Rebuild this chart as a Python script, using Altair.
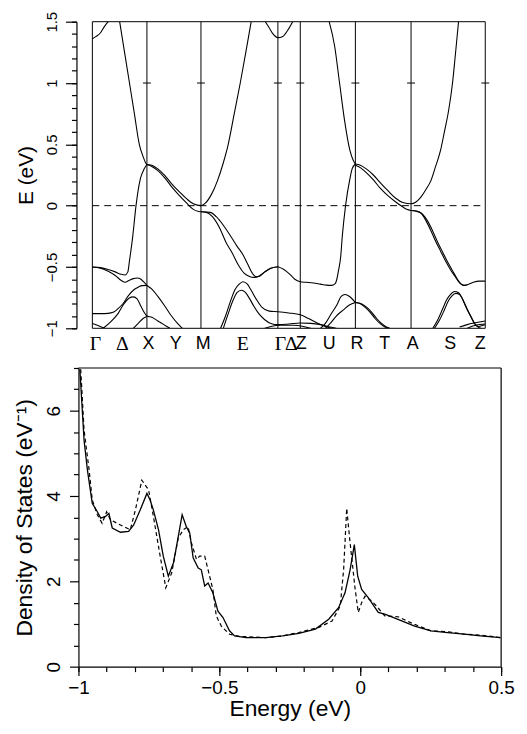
import altair as alt
import pandas as pd

# ---------------- Density of states (bottom panel) ----------------
solid_e = [-0.995,-0.980,-0.968,-0.951,-0.933,-0.921,-0.904,-0.892,-0.880,-0.851,-0.822,-0.804,-0.781,-0.757,-0.746,-0.734,-0.716,-0.699,-0.681,-0.663,-0.652,-0.632,-0.617,-0.605,-0.593,-0.575,-0.564,-0.552,-0.540,-0.523,-0.505,-0.487,-0.464,-0.446,-0.405,-0.335,-0.276,-0.218,-0.159,-0.112,-0.077,-0.054,-0.036,-0.021,-0.009,0.005,0.029,0.064,0.087,0.134,0.193,0.251,0.310,0.369,0.427,0.498]
solid_d = [6.97,5.30,4.60,3.83,3.63,3.48,3.52,3.59,3.25,3.15,3.17,3.32,3.67,4.06,3.91,3.67,3.21,2.59,2.12,2.43,2.82,3.56,3.28,3.13,2.55,2.31,2.27,1.89,1.96,1.73,1.30,1.15,0.84,0.72,0.68,0.68,0.72,0.78,0.88,1.11,1.38,1.73,2.27,2.86,2.12,1.81,1.61,1.27,1.23,1.11,0.95,0.84,0.80,0.76,0.72,0.68]
dash_e = [-0.992,-0.980,-0.962,-0.951,-0.933,-0.916,-0.900,-0.886,-0.863,-0.839,-0.816,-0.798,-0.775,-0.751,-0.734,-0.710,-0.690,-0.669,-0.646,-0.628,-0.611,-0.599,-0.581,-0.570,-0.552,-0.540,-0.523,-0.511,-0.493,-0.464,-0.429,-0.335,-0.276,-0.218,-0.147,-0.100,-0.071,-0.059,-0.048,-0.036,-0.018,-0.007,0.005,0.017,0.040,0.058,0.087,0.134,0.193,0.251,0.310,0.369,0.427,0.498]
dash_d = [6.97,5.54,4.60,3.91,3.56,3.36,3.63,3.44,3.36,3.28,3.21,3.67,4.37,4.14,3.52,2.59,1.85,2.20,3.01,3.21,3.28,2.90,2.51,2.59,2.59,2.27,1.81,1.19,0.95,0.76,0.71,0.68,0.72,0.80,0.92,1.07,1.42,2.27,3.71,2.90,1.81,1.27,1.50,1.65,1.54,1.42,1.19,1.17,0.99,0.84,0.82,0.76,0.74,0.68]

dos_x_major = [-1, -0.5, 0, 0.5]
dos_x_minor = [-1.0,-0.9,-0.8,-0.7,-0.6,-0.5,-0.4,-0.3,-0.2,-0.1,0.0,0.1,0.2,0.3,0.4,0.5]
dos_y_major = [0, 2, 4, 6]
dos_y_minor = [0.5,1,1.5,2.5,3,3.5,4.5,5,5.5,6.5,7]

# ---------------- Band structure (top panel) ----------------
# k in units of the Gamma-X distance along the path
sym_k = [1.00, 1.99, 3.40, 3.81, 4.82, 5.84]          # X, M, Gamma, Z, R, A
k_end = 7.20                                          # final Z
tick1_k = [1.00, 1.99, 3.40, 3.81, 4.82, 5.84, 7.20]  # small marks at E = 1 eV

sans_names = ["X", "Y", "M", "Z", "U", "R", "T", "A", "S", "Z"]
sans_pos   = [1.02, 1.52, 2.02, 3.82, 4.33, 4.84, 5.35, 5.86, 6.55, 7.20]
serif_names = ["Γ", "Δ", "E", "Γ", "Δ"]
serif_pos   = [0.05, 0.54, 2.75, 3.44, 3.64]

band_gamma_top = [(0.00,1.36),(0.07,1.38),(0.15,1.41),(0.22,1.46),(0.29,1.50)]
band_cond_1 = [(0.50,1.50),(0.59,1.25),(0.68,1.00),(0.77,0.75),(0.86,0.50),(0.93,0.40),(1.00,0.336),
               (1.09,0.33),(1.20,0.30),(1.33,0.245),(1.45,0.18),(1.60,0.11),(1.73,0.055),(1.85,0.015),(1.99,0.00),
               (2.07,0.02),(2.18,0.09),(2.29,0.20),(2.40,0.35),(2.49,0.50),(2.60,0.75),(2.71,1.00),(2.82,1.27),(2.91,1.50)]
band_gx_rise = [(0.00,-0.50),(0.15,-0.505),(0.29,-0.52),(0.42,-0.54),(0.53,-0.56),(0.60,-0.565),(0.65,-0.54),
                (0.68,-0.45),(0.74,-0.25),(0.80,0.00),(0.88,0.22),(0.95,0.30),(1.00,0.336)]
band_xm_low = [(1.00,0.336),(1.09,0.32),(1.20,0.285),(1.33,0.225),(1.45,0.155),(1.60,0.08),(1.73,0.02),(1.85,-0.03),(1.95,-0.047),(1.99,-0.05)]
band_mg_a = [(1.99,-0.05),(2.09,-0.055),(2.20,-0.09),(2.33,-0.18),(2.45,-0.30),(2.56,-0.384),(2.67,-0.48),(2.78,-0.55),
             (2.87,-0.575),(2.96,-0.585),(3.05,-0.575),(3.16,-0.54),(3.27,-0.51),(3.40,-0.498)]
band_mg_b = [(1.99,-0.05),(2.16,-0.055),(2.27,-0.09),(2.40,-0.16),(2.55,-0.26),(2.65,-0.33),(2.76,-0.40),(2.85,-0.48),
             (2.93,-0.55),(3.00,-0.58),(3.05,-0.578),(3.16,-0.54),(3.27,-0.51),(3.40,-0.498)]
band_gz = [(3.40,-0.498),(3.51,-0.52),(3.62,-0.56),(3.71,-0.60),(3.81,-0.62),(3.91,-0.625),(4.05,-0.63),(4.18,-0.64),
           (4.29,-0.648),(4.38,-0.65),(4.45,-0.635),(4.48,-0.60),(4.51,-0.53),(4.55,-0.42),(4.58,-0.25),(4.64,0.00),
           (4.72,0.22),(4.76,0.30),(4.82,0.34)]
band_zr_top = [(4.34,1.50),(4.44,1.30),(4.53,1.00),(4.62,0.70),(4.72,0.45),(4.78,0.37),(4.82,0.34)]
band_gamma2_top = [(3.17,1.50),(3.24,1.45),(3.31,1.40),(3.40,1.37),(3.49,1.38),(3.58,1.43),(3.67,1.50)]
band_ra_up = [(4.82,0.34),(4.91,0.33),(5.02,0.30),(5.15,0.25),(5.27,0.19),(5.42,0.12),(5.56,0.06),(5.69,0.025),(5.84,0.015),
              (5.93,0.03),(6.02,0.07),(6.11,0.13),(6.20,0.20),(6.29,0.32),(6.38,0.45),(6.45,0.60),(6.53,0.78),(6.60,1.00),
              (6.65,1.22),(6.71,1.50)]
band_ra_low = [(4.82,0.33),(4.91,0.31),(5.02,0.27),(5.15,0.21),(5.27,0.145),(5.42,0.08),(5.56,0.03),(5.67,-0.005),(5.76,-0.03),(5.84,-0.04)]
band_az_1 = [(5.84,-0.04),(5.93,-0.045),(6.02,-0.06),(6.11,-0.12),(6.20,-0.20),(6.29,-0.29),(6.38,-0.37),(6.47,-0.45),
             (6.56,-0.52),(6.65,-0.58),(6.73,-0.63),(6.80,-0.65),(6.87,-0.645),(6.98,-0.625),(7.09,-0.615),(7.20,-0.615)]
band_az_2 = [(5.84,-0.04),(5.96,-0.045),(6.05,-0.07),(6.15,-0.13),(6.24,-0.21),(6.33,-0.30),(6.42,-0.38),(6.51,-0.46),
             (6.60,-0.53),(6.69,-0.60),(6.76,-0.64),(6.82,-0.65),(6.87,-0.645)]
band_gx_low1 = [(0.00,-0.50),(0.15,-0.51),(0.29,-0.535),(0.42,-0.57),(0.53,-0.61),(0.60,-0.625),(0.67,-0.61),(0.75,-0.595),
                (0.82,-0.59),(0.89,-0.60),(0.95,-0.625),(1.00,-0.65),(1.09,-0.68),(1.20,-0.74),(1.33,-0.82),(1.45,-0.90),
                (1.56,-0.96),(1.65,-1.00)]
band_gx_low2 = [(0.00,-0.88),(0.15,-0.88),(0.29,-0.878),(0.38,-0.87),(0.47,-0.84),(0.56,-0.80),(0.65,-0.74),(0.75,-0.69),
                (0.84,-0.665),(0.91,-0.652),(1.00,-0.65)]
band_gx_bump = [(0.20,-1.00),(0.33,-0.95),(0.47,-0.88),(0.58,-0.80),(0.67,-0.755),(0.75,-0.744),(0.82,-0.76),(0.89,-0.82),
                (0.95,-0.87),(1.00,-0.90),(1.09,-0.91),(1.20,-0.94),(1.31,-0.97),(1.42,-1.00)]
band_x_arm = [(0.75,-1.00),(0.84,-0.96),(0.93,-0.92),(1.00,-0.904)]
band_g_bottom = [(0.00,-0.96),(0.09,-0.975),(0.22,-1.00)]
band_mg_p1 = [(2.35,-1.00),(2.44,-0.90),(2.53,-0.78),(2.62,-0.68),(2.69,-0.64),(2.76,-0.62),(2.84,-0.64),(2.91,-0.69),
              (3.00,-0.76),(3.11,-0.83),(3.24,-0.86),(3.40,-0.865),(3.60,-0.875),(3.81,-0.89),(3.96,-0.92),(4.11,-0.955),
              (4.27,-0.985),(4.38,-1.00)]
band_mg_p2 = [(2.40,-1.00),(2.49,-0.88),(2.58,-0.77),(2.65,-0.71),(2.73,-0.69),(2.80,-0.705),(2.87,-0.75),(2.96,-0.82),
              (3.05,-0.88),(3.16,-0.93),(3.27,-0.96),(3.40,-0.97),(3.60,-0.965),(3.81,-0.957),(4.00,-0.96),(4.18,-0.97),
              (4.36,-0.99),(4.47,-1.00)]
band_gz_bottom = [(3.16,-1.00),(3.27,-0.985),(3.45,-0.975),(3.69,-0.975),(3.87,-0.985),(4.00,-1.00)]
band_zr_q1 = [(4.18,-1.00),(4.27,-0.96),(4.38,-0.88),(4.48,-0.81),(4.56,-0.74),(4.63,-0.725),(4.69,-0.735),(4.75,-0.755),(4.82,-0.79)]
band_zr_q2 = [(4.27,-1.00),(4.36,-0.96),(4.47,-0.90),(4.60,-0.85),(4.71,-0.81),(4.82,-0.79)]
band_ra_d1 = [(4.82,-0.79),(4.91,-0.80),(5.00,-0.83),(5.09,-0.87),(5.18,-0.92),(5.27,-0.96),(5.36,-0.99),(5.42,-1.00)]
band_ra_d2 = [(4.82,-0.79),(4.93,-0.80),(5.03,-0.83),(5.12,-0.87),(5.21,-0.92),(5.30,-0.96),(5.39,-0.99),(5.45,-1.00)]
band_az_bump1 = [(6.24,-1.00),(6.33,-0.93),(6.42,-0.84),(6.49,-0.77),(6.56,-0.725),(6.64,-0.70),(6.71,-0.71),(6.78,-0.76),
                 (6.85,-0.83),(6.93,-0.90),(7.00,-0.96),(7.07,-0.985),(7.16,-0.975),(7.20,-0.97)]
band_az_bump2 = [(6.27,-1.00),(6.36,-0.935),(6.45,-0.85),(6.52,-0.78),(6.59,-0.735),(6.66,-0.715),(6.73,-0.725),(6.80,-0.775),
                 (6.87,-0.845),(6.95,-0.915),(7.02,-0.97),(7.09,-0.995),(7.12,-1.00)]
band_z_bottom1 = [(6.73,-0.99),(6.87,-0.97),(7.02,-0.955),(7.20,-0.94)]
band_z_bottom2 = [(6.87,-1.00),(7.02,-0.975),(7.20,-0.965)]

all_bands = {
    "gamma_top": band_gamma_top, "cond_1": band_cond_1, "gx_rise": band_gx_rise, "xm_low": band_xm_low,
    "mg_a": band_mg_a, "mg_b": band_mg_b, "gz": band_gz, "zr_top": band_zr_top, "gamma2_top": band_gamma2_top,
    "ra_up": band_ra_up, "ra_low": band_ra_low, "az_1": band_az_1, "az_2": band_az_2,
    "gx_low1": band_gx_low1, "gx_low2": band_gx_low2, "gx_bump": band_gx_bump, "x_arm": band_x_arm,
    "g_bottom": band_g_bottom, "mg_p1": band_mg_p1, "mg_p2": band_mg_p2, "gz_bottom": band_gz_bottom,
    "zr_q1": band_zr_q1, "zr_q2": band_zr_q2, "ra_d1": band_ra_d1, "ra_d2": band_ra_d2,
    "az_bump1": band_az_bump1, "az_bump2": band_az_bump2, "z_bottom1": band_z_bottom1, "z_bottom2": band_z_bottom2,
}
rows = []
for name, pts in all_bands.items():
    for i, (k, e) in enumerate(pts):
        rows.append({"band": name, "k": k, "E": e, "i": i})
df_bands = pd.DataFrame(rows)

E_MIN, E_MAX = -1.0, 1.5
K_MIN = -0.255

df_sym = pd.DataFrame({"k": sym_k, "lo": [E_MIN] * len(sym_k), "hi": [E_MAX] * len(sym_k)})
df_tick1 = pd.DataFrame({"k": tick1_k, "E": [1.0] * len(tick1_k)})
df_vframe = pd.DataFrame({"k": [0.0, k_end], "lo": [E_MIN, E_MIN], "hi": [E_MAX, E_MAX]})
df_hframe = pd.DataFrame({"k0": [0.0, 0.0], "k1": [k_end, k_end], "E": [E_MIN, E_MAX]})
df_fermi = pd.DataFrame({"k0": [0.0], "k1": [k_end], "E": [0.0]})

W1, H1 = 410, 309
W2, H2 = 426, 301

xs1 = alt.Scale(domain=[K_MIN, k_end], nice=False, zero=False)
ys1 = alt.Scale(domain=[E_MIN, E_MAX], nice=False, zero=False)


def label_expr(names, pos):
    n = "[" + ",".join("'" + s + "'" for s in names) + "]"
    p = "[" + ",".join(repr(v) for v in pos) + "]"
    return n + "[indexof(" + p + ", datum.value)]"


axis_x_sans = alt.Axis(orient="bottom", values=sans_pos, labelExpr=label_expr(sans_names, sans_pos), ticks=False,
                       tickSize=0, domain=False, grid=False, labelOverlap=False, labelBound=False,
                       labelFont="Liberation Sans", labelFontSize=18, labelPadding=6, title=None)
axis_x_serif = alt.Axis(orient="bottom", values=serif_pos, labelExpr=label_expr(serif_names, serif_pos), ticks=False,
                        tickSize=0, domain=False, grid=False, labelOverlap=False, labelBound=False,
                        labelFont="Liberation Serif", labelFontSize=20, labelPadding=5, title=None)
axis_y_major = alt.Axis(orient="left", values=[-1, -0.5, 0, 0.5, 1, 1.5], format="~g", labelAngle=270, tickSize=11,
                        offset=2, labelFontSize=15, labelPadding=6, title="E (eV)", titleFontSize=21,
                        titlePadding=8, labelOverlap=False, grid=False)
axis_y_minor = alt.Axis(orient="left", values=[round(-1 + 0.1 * i, 1) for i in range(26)], labels=False, tickSize=5,
                        offset=2, domain=False, grid=False, title=None)

bands = alt.Chart(df_bands).mark_line(color="black", strokeWidth=1.1, interpolate="monotone", clip=True).encode(
    x=alt.X("k:Q", scale=xs1, axis=axis_x_sans),
    y=alt.Y("E:Q", scale=ys1, axis=axis_y_major),
    detail="band:N",
    order="i:Q",
)
symlines = alt.Chart(df_sym).mark_rule(color="black", strokeWidth=1).encode(
    x=alt.X("k:Q", scale=xs1, axis=axis_x_serif),
    y=alt.Y("lo:Q", scale=ys1, axis=axis_y_minor),
    y2="hi:Q",
)
ticks1 = alt.Chart(df_tick1).mark_rule(color="black", strokeWidth=1, xOffset=-4, x2Offset=4).encode(
    x=alt.X("k:Q", scale=xs1, axis=None), x2="k:Q",
    y=alt.Y("E:Q", scale=ys1, axis=None),
)
vframe = alt.Chart(df_vframe).mark_rule(color="black", strokeWidth=1).encode(
    x=alt.X("k:Q", scale=xs1, axis=None),
    y=alt.Y("lo:Q", scale=ys1, axis=None), y2="hi:Q",
)
hframe = alt.Chart(df_hframe).mark_rule(color="black", strokeWidth=1).encode(
    x=alt.X("k0:Q", scale=xs1, axis=None), x2="k1:Q",
    y=alt.Y("E:Q", scale=ys1, axis=None),
)
fermi = alt.Chart(df_fermi).mark_rule(color="black", strokeWidth=1, strokeDash=[7, 5]).encode(
    x=alt.X("k0:Q", scale=xs1, axis=None), x2="k1:Q",
    y=alt.Y("E:Q", scale=ys1, axis=None),
)

top = alt.layer(bands, symlines, ticks1, vframe, hframe, fermi).resolve_axis(
    x="independent", y="independent").properties(width=W1, height=H1)

# ---------------- DOS chart ----------------
df_solid = pd.DataFrame({"E": solid_e, "D": solid_d})
df_dash = pd.DataFrame({"E": dash_e, "D": dash_d})
df_dframe_top = pd.DataFrame({"x0": [-1.0], "x1": [0.5], "y": [7.0]})
df_dframe_right = pd.DataFrame({"x": [0.5], "y0": [0.0], "y1": [7.0]})

xs2 = alt.Scale(domain=[-1, 0.5], nice=False, zero=False)
ys2 = alt.Scale(domain=[0, 7], nice=False, zero=False)

axis_dx_major = alt.Axis(orient="bottom", values=dos_x_major, format="~g", tickSize=9, labelFontSize=19,
                         labelPadding=3, title="Energy (eV)", titleFontSize=23, titlePadding=0, grid=False,
                         labelFlush=False)
axis_dx_minor = alt.Axis(orient="bottom", values=dos_x_minor, labels=False, tickSize=5, domain=False, grid=False,
                         title=None)
axis_dy_major = alt.Axis(orient="left", values=dos_y_major, format="~g", labelAngle=270, tickSize=9,
                         labelFontSize=19, labelPadding=6, title="Density of States (eV⁻¹)", titleFontSize=23,
                         titlePadding=8, grid=False)
axis_dy_minor = alt.Axis(orient="left", values=dos_y_minor, labels=False, tickSize=5, domain=False, grid=False,
                         title=None)

solid = alt.Chart(df_solid).mark_line(color="black", strokeWidth=1.3).encode(
    x=alt.X("E:Q", scale=xs2, axis=axis_dx_major),
    y=alt.Y("D:Q", scale=ys2, axis=axis_dy_major),
)
dashed = alt.Chart(df_dash).mark_line(color="black", strokeWidth=1.2, strokeDash=[4, 3]).encode(
    x=alt.X("E:Q", scale=xs2, axis=axis_dx_minor),
    y=alt.Y("D:Q", scale=ys2, axis=axis_dy_minor),
)
dtop = alt.Chart(df_dframe_top).mark_rule(color="black", strokeWidth=1.2).encode(
    x=alt.X("x0:Q", scale=xs2, axis=None), x2="x1:Q",
    y=alt.Y("y:Q", scale=ys2, axis=None),
)
dright = alt.Chart(df_dframe_right).mark_rule(color="black", strokeWidth=1.2).encode(
    x=alt.X("x:Q", scale=xs2, axis=None),
    y=alt.Y("y0:Q", scale=ys2, axis=None), y2="y1:Q",
)
dos = alt.layer(solid, dashed, dtop, dright).resolve_axis(
    x="independent", y="independent").properties(width=W2, height=H2)

chart = alt.vconcat(top, dos, spacing=40, bounds="flush").properties(
    padding={"left": 5, "top": 0, "right": 4, "bottom": 2}
).configure_axis(
    labelColor="black", titleColor="black", tickColor="black", domainColor="black",
    labelFont="Liberation Sans", titleFont="Liberation Sans", titleFontWeight="normal",
    domainWidth=1.2, tickWidth=1.2,
).configure_view(strokeWidth=0)

chart.save("out.html", embed_options={"renderer": "svg", "actions": False})
